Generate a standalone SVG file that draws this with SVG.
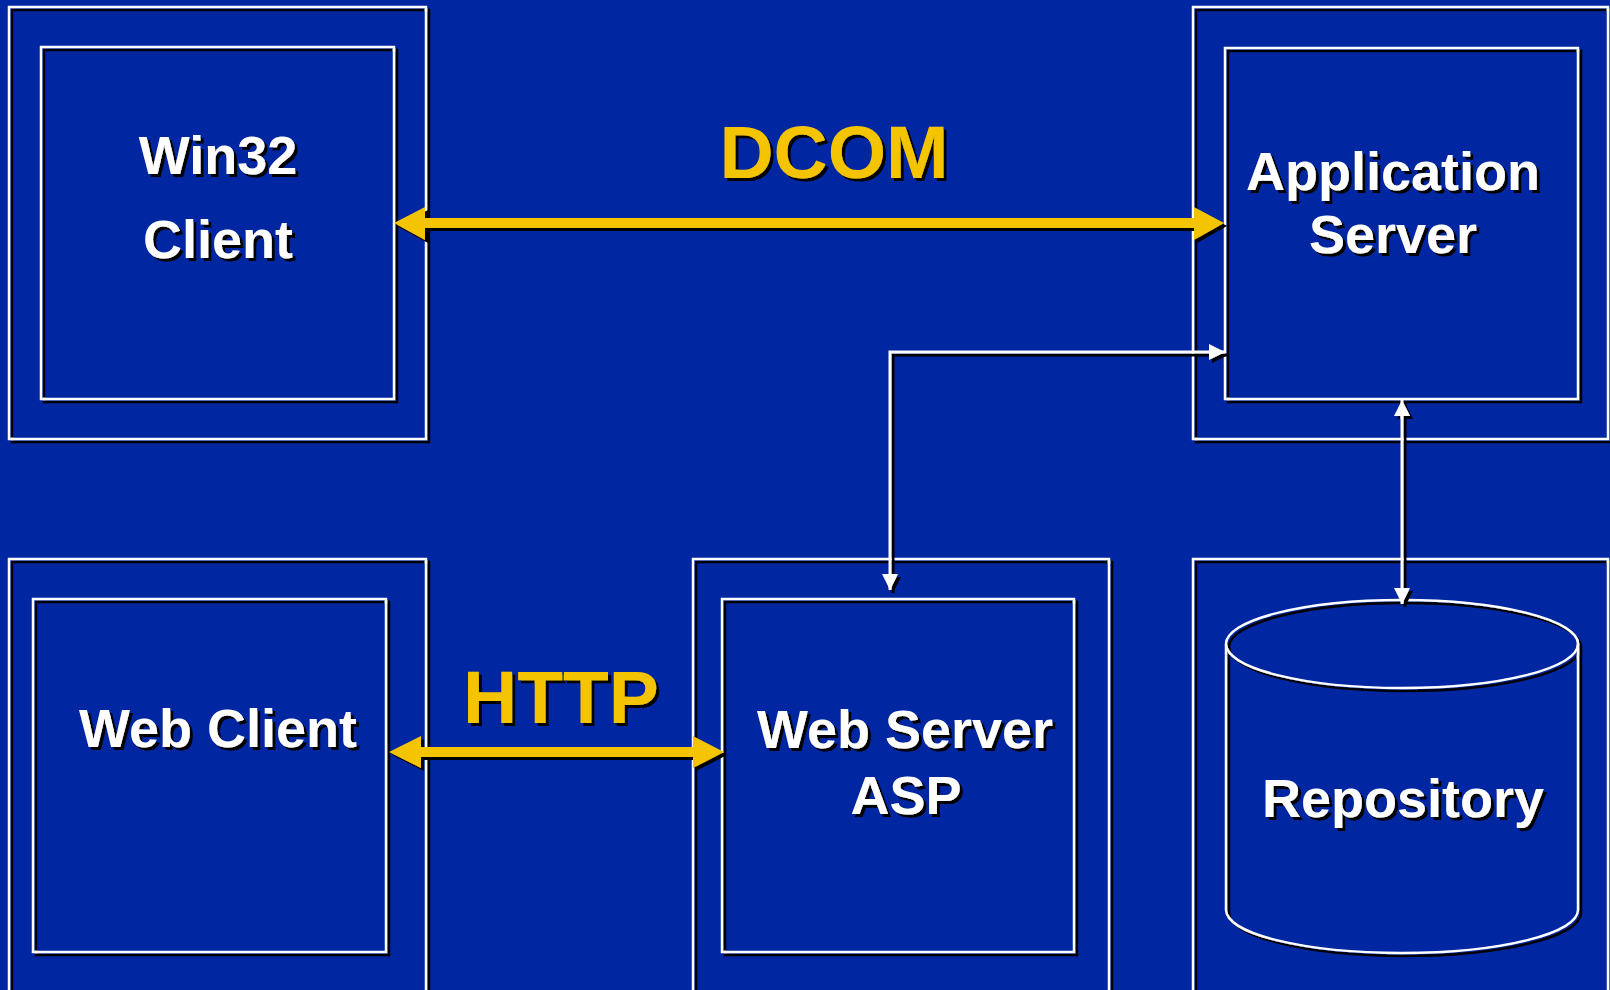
<svg xmlns="http://www.w3.org/2000/svg" width="1610" height="990" viewBox="0 0 1610 990">
<style>
.box{fill:none;stroke:#ffffff;stroke-width:2.5}
.lbl{font-family:"Liberation Sans",Arial,sans-serif;font-weight:bold;font-size:54px;fill:#ffffff;text-anchor:middle}
.proto{font-family:"Liberation Sans",Arial,sans-serif;font-weight:bold;font-size:75px;fill:#F5C400;text-anchor:middle}
.wire{fill:none;stroke:#ffffff;stroke-width:3}
.thick{fill:#F5C400;stroke:none}
</style>
<defs>
<filter id="sh" x="-10%" y="-10%" width="120%" height="120%">
<feDropShadow dx="3" dy="3" stdDeviation="0" flood-color="#000000" flood-opacity="1"/>
</filter>
<marker id="wa" viewBox="0 0 16 16" refX="16" refY="8" markerWidth="16" markerHeight="16" markerUnits="userSpaceOnUse" orient="auto-start-reverse">
<path d="M0,0 L16,8 L0,16 Z" fill="#ffffff"/>
</marker>
</defs>
<rect x="0" y="0" width="1610" height="990" fill="#0027A1"/>

<g id="win32-client" filter="url(#sh)">
<rect class="box" x="9" y="7" width="417" height="432"/>
<rect class="box" x="41" y="47" width="353" height="352"/>
<text class="lbl" x="218" y="174">Win32</text>
<text class="lbl" x="218" y="258">Client</text>
</g>

<g id="application-server" filter="url(#sh)">
<rect class="box" x="1193" y="7" width="415" height="432"/>
<rect class="box" x="1225" y="48" width="353" height="351"/>
<text class="lbl" x="1393" y="190">Application</text>
<text class="lbl" x="1393" y="253">Server</text>
</g>

<g id="web-client" filter="url(#sh)">
<rect class="box" x="9" y="559" width="417" height="450"/>
<rect class="box" x="33" y="599" width="353" height="353"/>
<text class="lbl" x="218" y="747">Web Client</text>
</g>

<g id="web-server-asp" filter="url(#sh)">
<rect class="box" x="693" y="559" width="416" height="450"/>
<rect class="box" x="722" y="599" width="352" height="353"/>
<text class="lbl" x="905" y="748">Web Server</text>
<text class="lbl" x="906" y="814">ASP</text>
</g>

<g id="repository" filter="url(#sh)">
<rect class="box" x="1193" y="559" width="415" height="450"/>
<path class="box" d="M1226,644 L1226,910 A176,43 0 0 0 1578,910 L1578,644"/>
<ellipse class="box" cx="1402" cy="644" rx="176" ry="44"/>
<text class="lbl" x="1403" y="817">Repository</text>
</g>

<g id="connectors" filter="url(#sh)">
<path class="thick" d="M394,223 L425,207 L425,218 L1194,218 L1194,207 L1224,223 L1194,240 L1194,228 L425,228 L425,240 Z"/>
<path class="thick" d="M389,752 L421,736 L421,747 L693,747 L693,736 L724,752 L693,768 L693,757 L421,757 L421,768 Z"/>
<path class="wire" d="M890,590 L890,352 L1225,352" marker-start="url(#wa)" marker-end="url(#wa)"/>
<path class="wire" d="M1402,400 L1402,604" marker-start="url(#wa)" marker-end="url(#wa)"/>
<text class="proto" x="834" y="178">DCOM</text>
<text class="proto" x="561" y="723">HTTP</text>
</g>
</svg>
